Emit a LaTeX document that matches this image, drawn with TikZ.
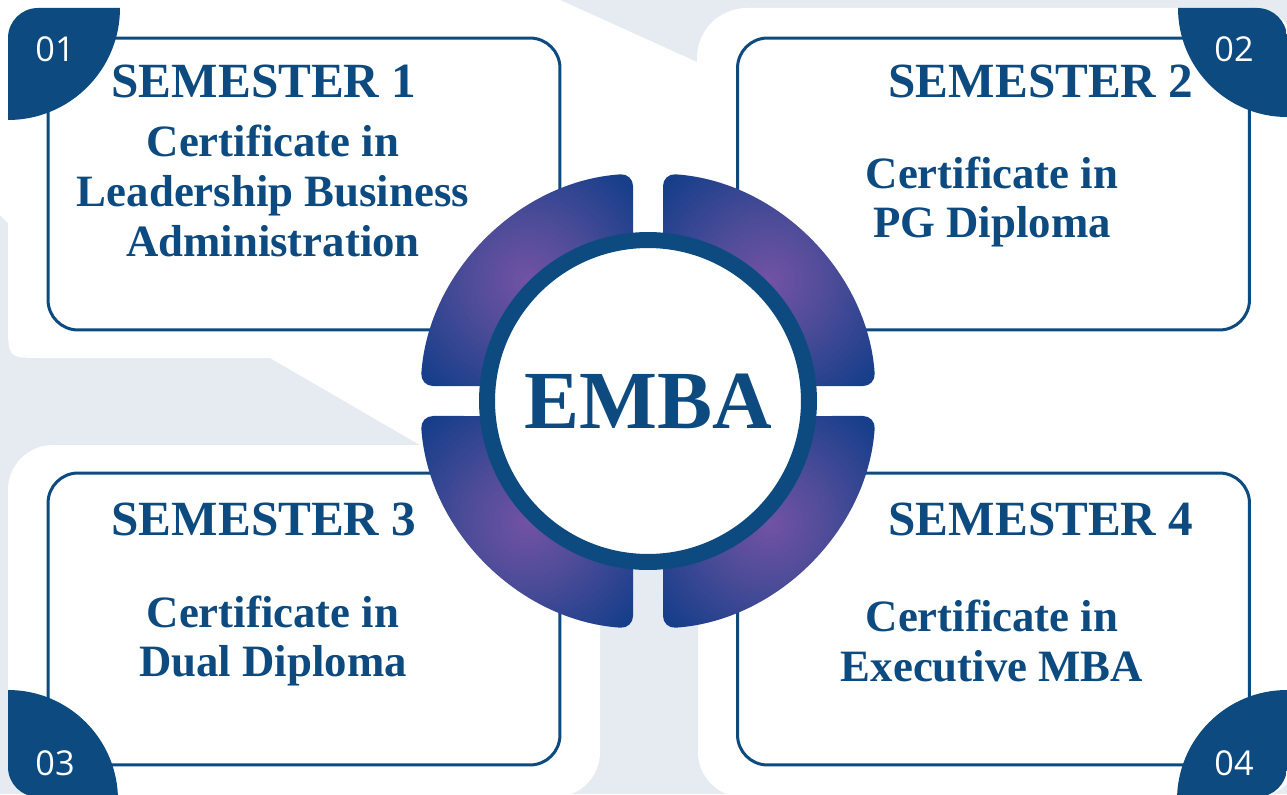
\documentclass[tikz,border=0pt]{standalone}
\usepackage{fontspec}
\setmainfont{Liberation Serif}
\newfontfamily\numfont{Open Sans}
\usepackage{xcolor}
\definecolor{navy}{RGB}{13,74,128}
\definecolor{paleback}{RGB}{230,235,242}
\definecolor{segpurple}{RGB}{114,82,164}
\definecolor{segmid}{RGB}{78,76,152}
\definecolor{segblue}{RGB}{22,62,138}
\usepackage{tikz}
\usetikzlibrary{positioning,calc}
\pgfdeclareradialshading{segglow}{\pgfpoint{0bp}{0bp}}{color(0bp)=(segpurple); color(14bp)=(segmid); color(33bp)=(segblue); color(50bp)=(segblue)}

\tikzset{
  semebox/.style={draw=navy, line width=0.06cm, rounded corners=0.6cm,
    minimum width=10.24cm, minimum height=5.84cm, inner sep=0pt},
  head/.style={text=navy, inner sep=0pt, font=\bfseries\fontsize{28}{30}\selectfont},
  body/.style={text=navy, inner sep=0pt, align=center, font=\bfseries\fontsize{25.5}{28.4}\selectfont},
  badgenum/.style={text=white, inner sep=0pt, font=\numfont\fontsize{19.5}{22}\selectfont},
  hub/.style={circle, draw=navy, fill=white, line width=0.32cm, minimum size=6.44cm,
    inner sep=0pt, text=navy, font=\bfseries\fontsize{47}{50}\selectfont}
}

\begin{document}
\begin{tikzpicture}[x=0.02cm, y=-0.02cm]
	\useasboundingbox (0,0) rectangle (1287,794);
	\clip (0,0) rectangle (1287,794);
	% background
	\fill[paleback] (0,0) rectangle (1287,794);
	\fill[white] (0,0) -- (560,0) -- (697,62) -- (697,445) -- (420,445) -- (270,358) -- (43,358)
		.. controls (8,358) .. (8,323) -- (8,223) -- (0,215) -- cycle;
	\fill[white, rounded corners=1cm] (697,8) rectangle (1300,470);
	\fill[white, rounded corners=0.9cm] (698,300) rectangle (1300,797);
	\fill[white, rounded corners=0.9cm] (8,445) rectangle (600,797);
	
	% draw boxes
	\node[semebox] (box1) at (304,184) {};
	\node[semebox] (box2) at (993.5,184) {};
	\node[semebox] (box3) at (304,619) {};
	\node[semebox] (box4) at (993.5,619) {};
	
	% corner badges
	\begin{scope}
		\clip[rounded corners=0.6cm] (8,8) rectangle (200,200);
		\fill[navy] (8,8) circle (112);
	\end{scope}
	\begin{scope}
		\clip[rounded corners=0.6cm] (1090,8) rectangle (1287,200);
		\fill[navy] (1287,8) circle (109);
	\end{scope}
	\begin{scope}
		\clip[rounded corners=0.6cm] (8,600) rectangle (200,797);
		\fill[navy] (8,800) circle (110);
	\end{scope}
	\begin{scope}
		\clip[rounded corners=0.6cm] (1090,600) rectangle (1287,797);
		\fill[navy] (1287,800) circle (110);
	\end{scope}
	\node[badgenum] (num1) at (55,49) {01};
	\node[badgenum] (num2) at (1234,49) {02};
	\node[badgenum] (num3) at (55,763) {03};
	\node[badgenum] (num4) at (1234,763) {04};
	
	% ring segments
	\coordinate (ctr) at (648,401);
	\foreach \b in {0,90,180,270}
		\shade[shading=segglow, rounded corners=0.25cm]
			($(ctr)+(\b+3.77:228)$) arc[start angle=\b+3.77, end angle=\b+86.23, radius=228]
			-- ($(ctr)+(\b+84.26:150)$) arc[start angle=\b+84.26, end angle=\b+5.74, radius=150] -- cycle;
	\node[hub] (emba) at (ctr) {EMBA};
	
	% semester texts
	\node[head] (sem1) at (264,81) {SEMESTER 1};
	\node[body] (cert1) at (273,191) {Certificate in\\Leadership Business\\Administration};
	\node[head] (sem2) at (1041,81) {SEMESTER 2};
	\node[body] (cert2) at (992,202) {Certificate in\\PG Diploma};
	\node[head] (sem3) at (264,519) {SEMESTER 3};
	\node[body] (cert3) at (273,641) {Certificate in\\Dual Diploma};
	\node[head] (sem4) at (1041,519) {SEMESTER 4};
	\node[body] (cert4) at (992,641) {Certificate in\\Executive MBA};
\end{tikzpicture}
\end{document}
